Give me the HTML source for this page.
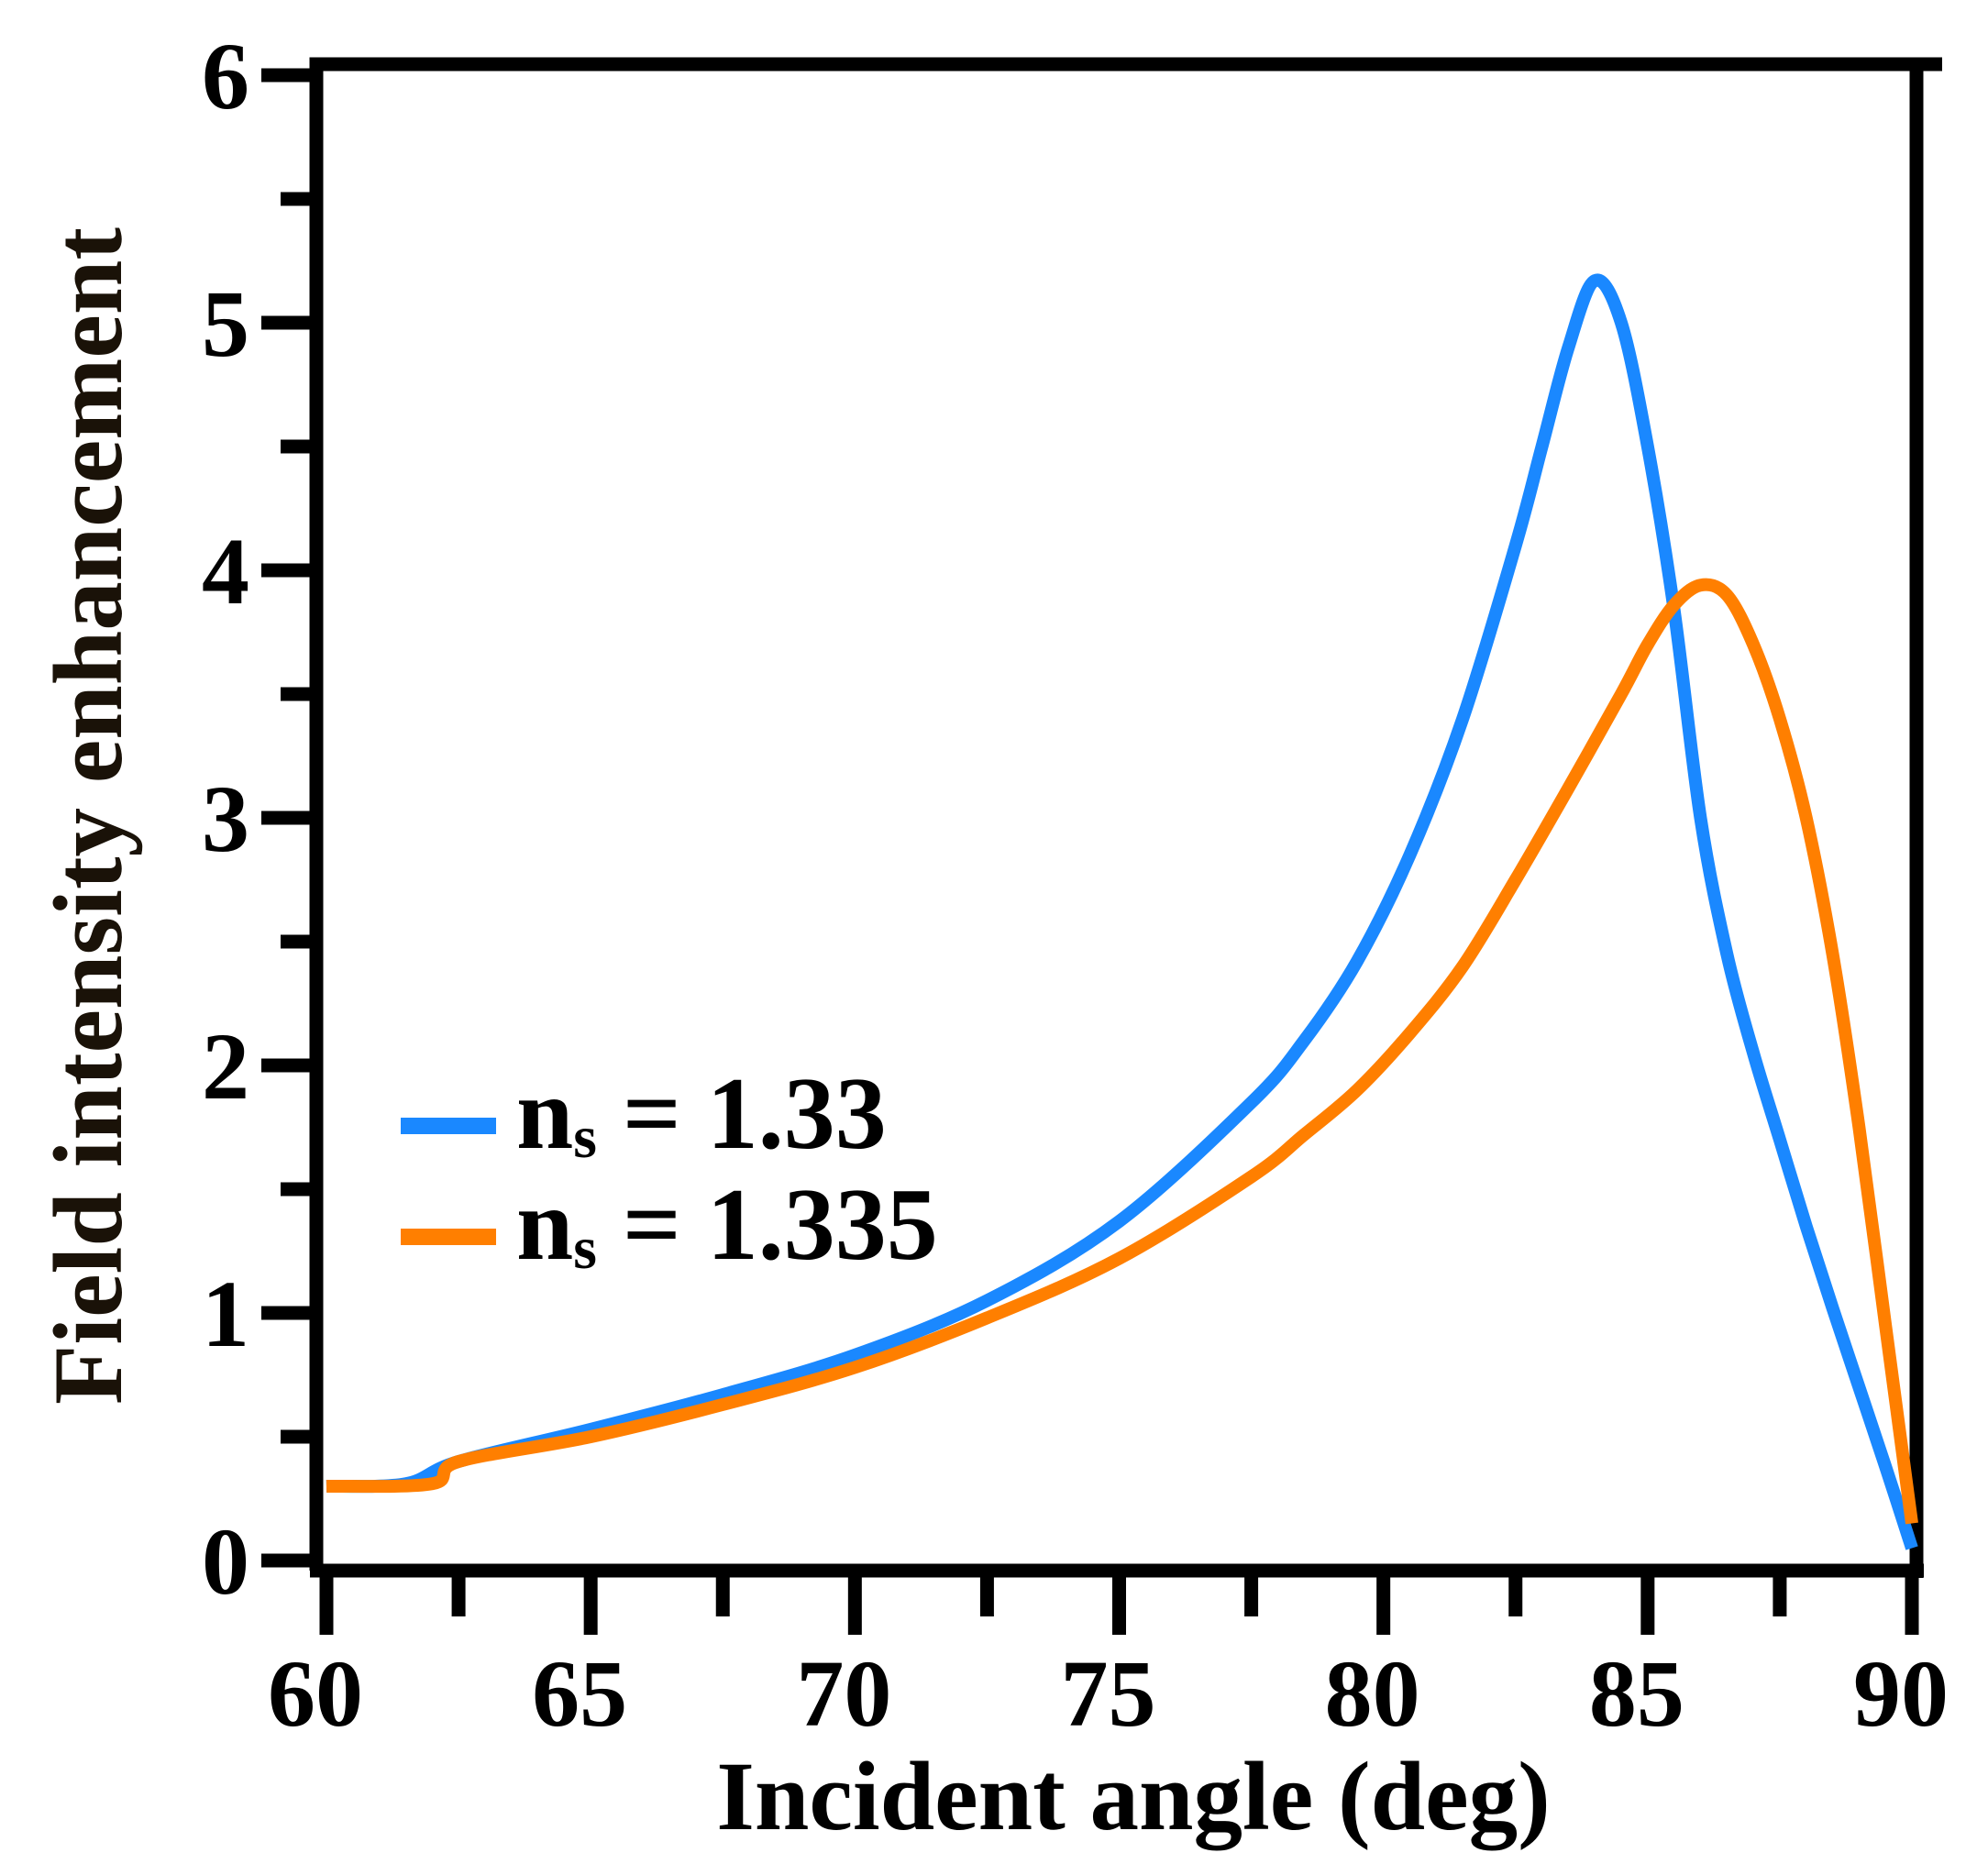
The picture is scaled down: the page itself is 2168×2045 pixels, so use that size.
<!DOCTYPE html>
<html><head><meta charset="utf-8"><style>
html,body{margin:0;padding:0;background:#fff;}
svg{display:block;}
text{font-family:"Liberation Serif",serif;font-weight:bold;fill:#000;}
</style></head><body>
<svg id="chart" width="2168" height="2045" viewBox="0 0 2168 2045" xmlns="http://www.w3.org/2000/svg">
<g id="axes"></g>
<g id="series"></g>
<text transform="translate(132,890) rotate(-90)" text-anchor="middle" font-size="107" style="fill:#1a1208">Field intensity enhancement</text>
<text x="1236" y="1995" text-anchor="middle" font-size="107">Incident angle (deg)</text>
<g>
<line x1="437" y1="1228" x2="541" y2="1228" stroke="#1a88ff" stroke-width="18"/>
<text x="563" y="1252" font-size="112">n<tspan font-size="66" dy="10">s</tspan><tspan dy="-10"> = 1.33</tspan></text>
<line x1="437" y1="1349" x2="541" y2="1349" stroke="#ff7f00" stroke-width="18"/>
<text x="563" y="1373" font-size="112">n<tspan font-size="66" dy="10">s</tspan><tspan dy="-10"> = 1.335</tspan></text>
</g>
</svg>
<script>
const anglesBlue = [60,61.5,62.5,65,67.5,70,72.5,75,77.5,78.5,79.5,80.5,81.5,82.5,83,83.5,84,84.5,85,85.5,86,86.5,87,87.5,88,88.5,89,89.5,90];
const valuesBlue = [0.3,0.31,0.4,0.53,0.67,0.83,1.05,1.37,1.85,2.1,2.42,2.85,3.4,4.1,4.5,4.9,5.17,5.0,4.5,3.84,3.0,2.45,2.05,1.7,1.35,1.02,0.7,0.38,0.05];
const anglesOrange = [60,62,62.5,65,67.5,70,72.5,75,77.5,78.5,79.5,80.5,81.5,82.5,83.5,84.5,85,85.5,86,86.5,87,87.5,88,88.5,89,89.5,90];
const valuesOrange = [0.3,0.31,0.4,0.5,0.63,0.78,0.98,1.22,1.55,1.72,1.9,2.13,2.4,2.75,3.12,3.5,3.7,3.86,3.94,3.9,3.7,3.4,3.0,2.45,1.75,0.95,0.15];
const xTicks = [60,65,70,75,80,85,90];
const yTicks = [0,1,2,3,4,5,6];

const NS="http://www.w3.org/2000/svg";
const X = v => 356 + (v-60)*(2085-356)/30;
const Y = v => 1702 - v*270;
const axes=document.getElementById('axes');
const series=document.getElementById('series');
function mk(tag,attrs,parent){const e=document.createElementNS(NS,tag);for(const k in attrs)e.setAttribute(k,attrs[k]);parent.appendChild(e);return e;}

let f=mk('path',{d:'M345,1713 V70 H2118 M2090,70 V1721 M338,1713 H2098',stroke:'#000','stroke-width':15,fill:'none'},axes);


for(let i=0;i<=12;i++){const v=i/2;const major=i%2===0;
 const t=mk('line',{x1:major?285:306,x2:345,y1:Y(v),y2:Y(v),stroke:'#000','stroke-width':15},axes);
 
 }
yTicks.forEach(v=>{const t=mk('text',{x:272,y:Y(v)+36,'text-anchor':'end','font-size':104},axes);t.textContent=v;
 
 });
for(let i=0;i<=12;i++){const v=60+i*2.5;const major=i%2===0;
 const t=mk('line',{x1:X(v),x2:X(v),y1:1713,y2:major?1783:1763,stroke:'#000','stroke-width':15},axes);
 
 }
xTicks.forEach(v=>{const t=mk('text',{x:X(v)-12,y:1882,'text-anchor':'middle','font-size':104},axes);t.textContent=v;
 
 });

function smooth(xs,ys){const p=xs.map((x,i)=>[X(x),Y(ys[i])]);let d='M'+p[0][0]+','+p[0][1];
 for(let i=0;i<p.length-1;i++){const p0=p[Math.max(0,i-1)],p1=p[i],p2=p[i+1],p3=p[Math.min(p.length-1,i+2)];
  const c1=[p1[0]+(p2[0]-p0[0])/6,p1[1]+(p2[1]-p0[1])/6],c2=[p2[0]-(p3[0]-p1[0])/6,p2[1]-(p3[1]-p1[1])/6];
  d+=' C'+c1.join(',')+' '+c2.join(',')+' '+p2.join(',');}
 return d;}
const lb=mk('path',{d:smooth(anglesBlue,valuesBlue),stroke:'#1a88ff','stroke-width':14,fill:'none','stroke-linejoin':'round'},series);


const lo=mk('path',{d:smooth(anglesOrange,valuesOrange),stroke:'#ff7f00','stroke-width':14,fill:'none','stroke-linejoin':'round'},series);


</script>
</body></html>
